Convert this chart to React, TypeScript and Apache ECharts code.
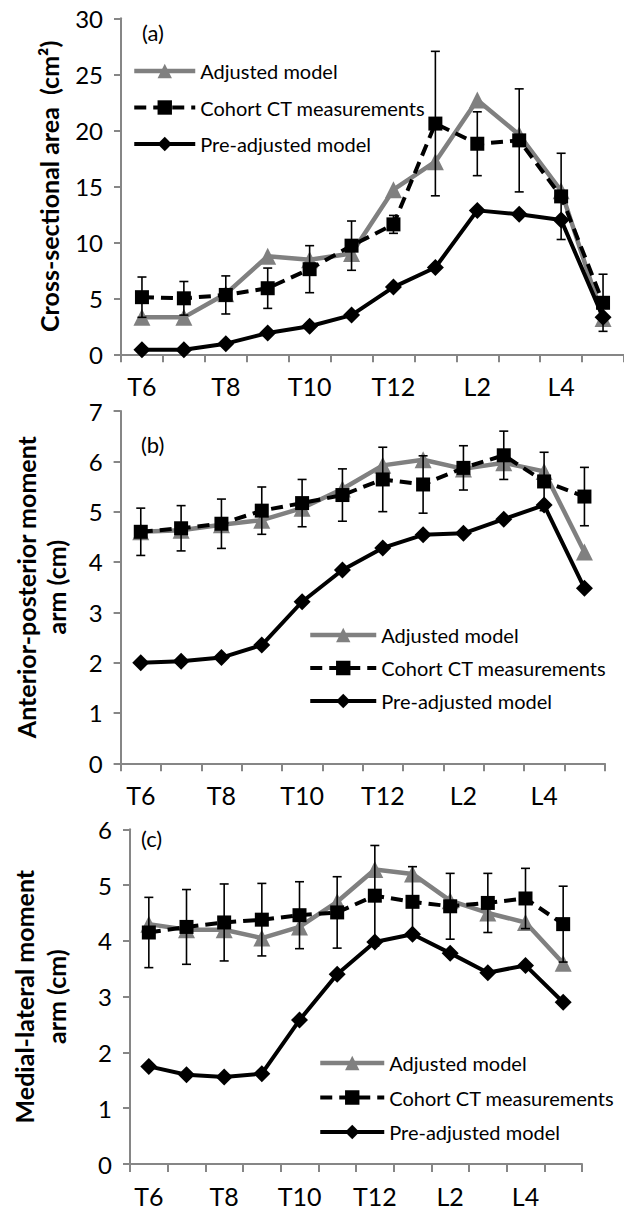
import React, { useEffect, useRef } from "react";
import * as echarts from "echarts";

const categories = ["T6", "T7", "T8", "T9", "T10", "T11", "T12", "L1", "L2", "L3", "L4", "L5"];

// Panel (a) cross-sectional area (cm^2)
const adjustedA = [3.3, 3.3, 5.4, 8.75, 8.45, 9.0, 14.7, 17.2, 22.7, 19.6, 14.6, 3.2];
const cohortA = [5.1, 5.0, 5.3, 5.9, 7.6, 9.7, 11.6, 20.6, 18.8, 19.1, 14.1, 4.6];
const cohortErrA = [1.8, 1.5, 1.7, 1.8, 2.1, 2.2, 0.8, 6.45, 2.85, 4.6, 3.85, 2.55];
const preA = [0.4, 0.4, 0.95, 1.9, 2.5, 3.5, 6.0, 7.75, 12.85, 12.5, 12.0, 3.3];

// Panel (b) anterior-posterior moment arm (cm)
const adjustedB = [4.6, 4.63, 4.74, 4.83, 5.07, 5.45, 5.92, 6.03, 5.85, 5.97, 5.8, 4.2];
const cohortB = [4.6, 4.67, 4.76, 5.02, 5.17, 5.33, 5.64, 5.54, 5.87, 6.12, 5.6, 5.3];
const cohortErrB = [0.47, 0.45, 0.49, 0.47, 0.47, 0.52, 0.64, 0.57, 0.44, 0.48, 0.58, 0.58];
const preB = [2.0, 2.03, 2.1, 2.35, 3.21, 3.84, 4.28, 4.54, 4.57, 4.85, 5.13, 3.48];

// Panel (c) medial-lateral moment arm (cm)
const adjustedC = [4.3, 4.2, 4.2, 4.05, 4.25, 4.7, 5.28, 5.2, 4.72, 4.5, 4.33, 3.6];
const cohortC = [4.15, 4.25, 4.33, 4.38, 4.46, 4.51, 4.81, 4.7, 4.62, 4.68, 4.76, 4.3];
const cohortErrC = [0.63, 0.67, 0.69, 0.65, 0.6, 0.64, 0.9, 0.63, 0.59, 0.53, 0.54, 0.68];
const preC = [1.75, 1.6, 1.56, 1.62, 2.58, 3.4, 3.98, 4.12, 3.78, 3.43, 3.56, 2.9];

const seriesNames = ["Adjusted model", "Cohort CT measurements", "Pre-adjusted model"];
const panelLabels = ["(a)", "(b)", "(c)"];
const yTitles = ["Cross-sectional area  (cm²)", "Anterior-posterior moment\narm (cm)", "Medial-lateral moment\narm (cm)"];
const yMaxes = [30, 7, 6];
const yIntervals = [5, 1, 1];

const FONT = "Lato, 'Liberation Sans', sans-serif";
const AXIS_GREY = "#868686";
const LINE_GREY = "#808080";

const grids = [
  { left: 121, top: 18.3, width: 506, height: 336 },
  { left: 120.6, top: 411, width: 484, height: 352.3 },
  { left: 117, top: 829.3, width: 465, height: 334.7 },
];
const nameGaps = [53, 50, 58];
const nameLineHeights = [31, 30, 32];
const legendPos = [
  { left: 132, top: 61, itemGap: 16.5, itemWidth: 61 },
  { left: 308, top: 625, itemGap: 13, itemWidth: 66 },
  { left: 318, top: 1053, itemGap: 14.5, itemWidth: 64 },
];
const labelPos = [
  { x: 142, y: 33 },
  { x: 141, y: 445 },
  { x: 141, y: 839 },
];

export default function App() {
  const ref = useRef<HTMLDivElement>(null);
  useEffect(() => {
    if (!ref.current) return;
    const chart = echarts.init(ref.current, undefined, { renderer: "svg" });
    const adj = [adjustedA, adjustedB, adjustedC];
    const coh = [cohortA, cohortB, cohortC];
    const err = [cohortErrA, cohortErrB, cohortErrC];
    const pre = [preA, preB, preC];

    const xAxis: any[] = [];
    const yAxis: any[] = [];
    const series: any[] = [];
    const legend: any[] = [];
    const graphic: any[] = [];

    for (let p = 0; p < 3; p++) {
      xAxis.push({
        type: "category",
        gridIndex: p,
        data: categories,
        axisLine: { lineStyle: { color: AXIS_GREY, width: 2 } },
        axisTick: { show: true, interval: 0, length: 8, lineStyle: { color: AXIS_GREY, width: 2 } },
        axisLabel: { interval: 1, fontSize: 25, color: "#000", margin: 19, fontFamily: FONT },
        splitLine: { show: false },
      });
      yAxis.push({
        type: "value",
        gridIndex: p,
        min: 0,
        max: yMaxes[p],
        interval: yIntervals[p],
        axisLine: { show: true, lineStyle: { color: AXIS_GREY, width: 2 } },
        axisTick: { show: true, length: 7, lineStyle: { color: AXIS_GREY, width: 2 } },
        axisLabel: { fontSize: 24, color: "#000", margin: 18, fontFamily: FONT },
        splitLine: { show: false },
        name: yTitles[p],
        nameLocation: "middle",
        nameRotate: 90,
        nameGap: nameGaps[p],
        nameTextStyle: {
          fontSize: 25,
          fontWeight: "bold",
          color: "#000",
          fontFamily: FONT,
          lineHeight: nameLineHeights[p],
        },
      });
      series.push({
        name: seriesNames[0],
        type: "line",
        xAxisIndex: p,
        yAxisIndex: p,
        data: adj[p],
        symbol: "triangle",
        symbolSize: 17,
        itemStyle: { color: LINE_GREY },
        lineStyle: { color: LINE_GREY, width: 4.5 },
        z: 2,
      });
      const errData = coh[p].map((v, i) => [i, v - err[p][i], v + err[p][i]]);
      series.push({
        type: "custom",
        xAxisIndex: p,
        yAxisIndex: p,
        data: errData,
        encode: { x: 0, y: [1, 2] },
        silent: true,
        z: 3,
        renderItem: (params: any, api: any) => {
          const x = api.value(0);
          const lo = api.coord([x, api.value(1)]);
          const hi = api.coord([x, api.value(2)]);
          const w = 4.5;
          const st = { stroke: "#000", lineWidth: 1.6 };
          return {
            type: "group",
            children: [
              { type: "line", shape: { x1: lo[0], y1: lo[1], x2: hi[0], y2: hi[1] }, style: st },
              { type: "line", shape: { x1: hi[0] - w, y1: hi[1], x2: hi[0] + w, y2: hi[1] }, style: st },
              { type: "line", shape: { x1: lo[0] - w, y1: lo[1], x2: lo[0] + w, y2: lo[1] }, style: st },
            ],
          };
        },
      });
      series.push({
        name: seriesNames[1],
        type: "line",
        xAxisIndex: p,
        yAxisIndex: p,
        data: coh[p],
        symbol: "rect",
        symbolSize: 14,
        itemStyle: { color: "#000" },
        lineStyle: { color: "#000", width: 4, type: [12, 7] },
        z: 4,
      });
      series.push({
        name: seriesNames[2],
        type: "line",
        xAxisIndex: p,
        yAxisIndex: p,
        data: pre[p],
        symbol: "diamond",
        symbolSize: 17,
        itemStyle: { color: "#000" },
        lineStyle: { color: "#000", width: 4 },
        z: 5,
      });
      legend.push({
        orient: "vertical",
        left: legendPos[p].left,
        top: legendPos[p].top,
        itemGap: legendPos[p].itemGap,
        itemWidth: legendPos[p].itemWidth,
        itemHeight: 18,
        padding: 0,
        selectedMode: false,
        data: [
          { name: seriesNames[0], lineStyle: { width: 4.5 } },
          { name: seriesNames[1], lineStyle: { width: 4 } },
          { name: seriesNames[2], lineStyle: { width: 4 } },
        ],
        textStyle: { fontSize: 20, color: "#000", fontFamily: FONT, lineHeight: 20 },
      });
      graphic.push({
        type: "text",
        left: labelPos[p].x,
        top: labelPos[p].y - 12,
        style: { text: panelLabels[p], fontSize: 22, fill: "#000", fontFamily: FONT },
      });
    }

    chart.setOption({
      animation: false,
      backgroundColor: "#fff",
      grid: grids.map((g) => ({ ...g, containLabel: false })),
      xAxis,
      yAxis,
      series,
      legend,
      graphic,
    });
    return () => chart.dispose();
  }, []);
  return (
    <div
      ref={ref}
      style={{ position: "absolute", left: 0, top: 0, width: 624, height: 1210, background: "#fff" }}
    />
  );
}
